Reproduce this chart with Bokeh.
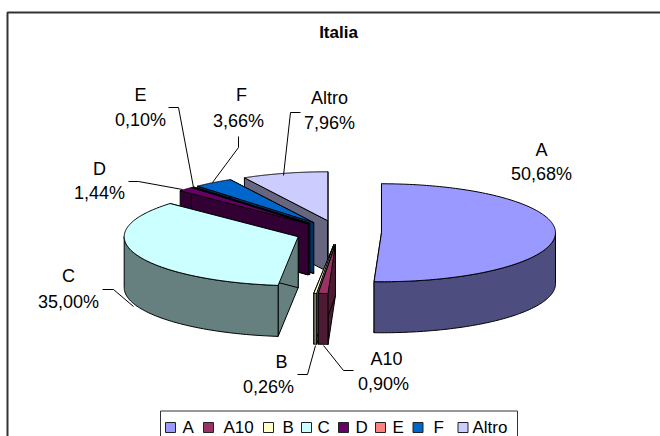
import numpy as np
from bokeh.plotting import figure
from bokeh.models import ColumnDataSource
from bokeh.core.properties import value
from bokeh.embed import file_html
from bokeh.resources import INLINE

# ---- data ----
title = "Italia"
categories = ["A", "A10", "B", "C", "D", "E", "F", "Altro"]
shares = [50.68, 0.90, 0.26, 35.00, 1.44, 0.10, 3.66, 7.96]
top_colors = ["#9999FF", "#993366", "#FFFFCC", "#CCFFFF", "#660066", "#FF8080", "#0066CC", "#CCCCFF"]
side_colors = ["#4D4D80", "#4D1A33", "#808066", "#668080", "#330033", "#804040", "#003366", "#666680"]

# ---- layout / style ----
CX, CY, RX, RY, DEPTH, EXPLODE = 338.0, 232.0, 174.0, 49.0, 51.0, 43.0
draw_order = ["Altro", "F", "E", "D", "C", "A", "B", "A10"]
FONT = "Liberation Sans"
label_pos = {  # name-line centre, value-line centre
    "A": (541, 149, 541, 173), "A10": (386, 358, 383, 383), "B": (281, 361, 268, 386),
    "C": (68, 275, 68, 301), "D": (99, 168, 99, 192), "E": (140, 94, 140, 119),
    "F": (241, 94, 238, 120), "Altro": (329, 97, 329, 122),
}
leaders = {
    "A10": [(323, 345), (343, 370), (353, 370)], "B": [(315, 345), (307, 374), (297, 374)],
    "C": [(133, 306), (113, 289), (102, 289)], "D": [(182, 189), (138, 181), (128, 181)],
    "E": [(193, 187), (178, 107), (168, 107)], "F": [(212, 182), (238, 147), (238, 136)],
    "Altro": [(283, 175), (290, 112), (300, 112)],
}
legend_swatch_x = [170, 208, 268, 306, 343, 380, 417.5, 462.5]
legend_text_x = [182, 223, 282, 317, 355, 392, 433, 472]
LEGEND_BOX = (160, 410.5, 517, 445)
LEGEND_Y = 427

p = figure(width=660, height=436, x_range=(0, 660), y_range=(436, 0),
           output_backend="svg", toolbar_location=None, min_border=0,
           outline_line_color=None, background_fill_color="white")
p.axis.visible = False
p.grid.visible = False

# ---- pie geometry from the shares (clockwise from 12 o'clock) ----
def pt(c, a):
    return c[0] + RX * np.sin(a), c[1] - RY * np.cos(a)

bounds = np.cumsum([0.0] + shares)
bounds = bounds / bounds[-1] * 2 * np.pi
slices = {}
for i, n in enumerate(categories):
    a0, a1 = bounds[i], bounds[i + 1]
    mid = (a0 + a1) / 2
    c = (CX + EXPLODE * np.sin(mid), CY - EXPLODE * (RY / RX) * np.cos(mid))
    slices[n] = (a0, a1, c, top_colors[i], side_colors[i])

xs, ys, fills = [], [], []
def add(x, y, color):
    xs.append(list(x)); ys.append(list(y)); fills.append(color)

for n in draw_order:
    a0, a1, c, top, side = slices[n]
    # radial cut faces
    for a in (a0, a1):
        ex, ey = pt(c, a)
        add([c[0], ex, ex, c[0]], [c[1], ey, ey + DEPTH, c[1] + DEPTH], side)
    # outer wall, front half only
    lo, hi = max(a0, np.pi / 2), min(a1, 3 * np.pi / 2)
    if hi > lo:
        t = np.linspace(lo, hi, 80)
        ax, ay = pt(c, t)
        add(np.r_[ax, ax[::-1]], np.r_[ay, ay[::-1] + DEPTH], side)
    # top
    t = np.linspace(a0, a1, 160)
    ax, ay = pt(c, t)
    add(np.r_[c[0], ax], np.r_[c[1], ay], top)

p.patches("xs", "ys", source=ColumnDataSource(dict(xs=xs, ys=ys, fill=fills)),
          fill_color="fill", line_color="black", line_width=1, line_join="round")

# ---- chart frame (left and top edges only) ----
p.line([7, 7, 660], [436, 12, 12], line_color="#333333", line_width=2)

# ---- title ----
p.text([338], [32], text=[title], text_font=value(FONT), text_font_style="bold",
       text_font_size="17px", text_align="center", text_baseline="middle", text_color="black")

# ---- labels and leaders ----
for n, s in zip(categories, shares):
    x0, y0, x1, y1 = label_pos[n]
    p.text([x0, x1], [y0, y1], text=[n, f"{s:.2f}%".replace(".", ",")], text_font=value(FONT),
           text_font_size="18px", text_align="center", text_baseline="middle", text_color="black")
    if n in leaders:
        lx, ly = zip(*leaders[n])
        p.line(lx, ly, line_color="black", line_width=1)

# ---- legend ----
b = LEGEND_BOX
p.quad(left=[b[0]], right=[b[2]], top=[b[1]], bottom=[b[3]], fill_color="white",
       line_color="#333333", line_width=1)
p.rect(legend_swatch_x, [LEGEND_Y] * 8, width=10, height=10, fill_color=top_colors, line_color="#222222", line_width=1)
p.text(legend_text_x, [LEGEND_Y] * 8, text=categories, text_font=value(FONT), text_font_size="17px",
       text_align="left", text_baseline="middle", text_color="black")

open("out.html", "w").write(file_html(p, INLINE))
